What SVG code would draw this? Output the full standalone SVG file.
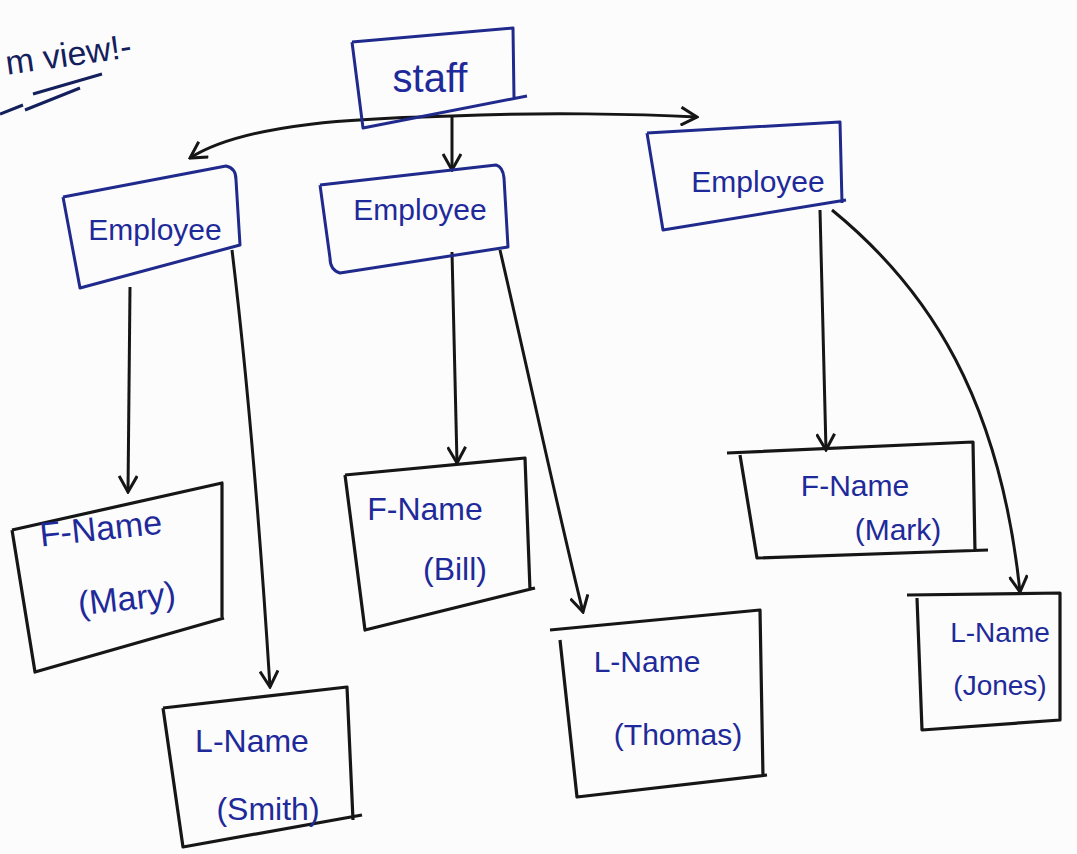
<svg xmlns="http://www.w3.org/2000/svg" width="1077" height="854" viewBox="0 0 1077 854">
<style>
.box{fill:none;stroke:#1f2a8c;stroke-width:3;stroke-linejoin:round}
.nbox{fill:none;stroke:#161616;stroke-width:3.2;stroke-linejoin:round}
.t{font-family:"Liberation Sans",Arial,sans-serif;fill:#1f2a9a;text-anchor:middle}
.c{fill:none;stroke:#161616;stroke-width:3}
</style>
<defs>
<marker id="ah" viewBox="0 0 20 20" refX="18" refY="10" markerWidth="20" markerHeight="20" markerUnits="userSpaceOnUse" orient="auto">
<path d="M2,1 L18,10 L2,19" fill="none" stroke="#161616" stroke-width="3"/>
</marker>
</defs>
<rect width="1077" height="854" fill="#fcfcfc"/>
<g id="title">
<text x="70" y="66" class="t" style="font-size:34px;fill:#14205c" transform="rotate(-8 70 66)">m view!-</text>
<path d="M33,94 L102,74 M25,110 L80,88 M0,114 L23,105" stroke="#14205c" stroke-width="3" fill="none"/>
</g>
<g id="connectors">
<path class="c" d="M452,116 L452,170" marker-end="url(#ah)"/>
<path class="c" d="M452,116 C380,118 250,120 190,158" marker-end="url(#ah)"/>
<path class="c" d="M452,116 C540,112 640,114 697,117" marker-end="url(#ah)"/>
<path class="c" d="M130,287 L128,492" marker-end="url(#ah)"/>
<path class="c" d="M232,250 C250,400 262,560 270,687" marker-end="url(#ah)"/>
<path class="c" d="M452,252 L457,463" marker-end="url(#ah)"/>
<path class="c" d="M500,250 C530,380 560,520 583,612" marker-end="url(#ah)"/>
<path class="c" d="M820,210 L826,450" marker-end="url(#ah)"/>
<path class="c" d="M832,210 C930,290 1000,400 1020,592" marker-end="url(#ah)"/>
</g>
<g id="staff">
<path class="box" d="M352,42 L513,28 L514,98 M527,96 L363,128 L352,42"/>
<text x="430" y="92" class="t" style="font-size:40px">staff</text>
</g>
<g id="employee1">
<path class="box" d="M63,197 L226,166 Q236,168 236,180 L240,245 L80,288 L63,197"/>
<text x="155" y="240" class="t" style="font-size:30px">Employee</text>
</g>
<g id="employee2">
<path class="box" d="M320,185 L496,165 Q503,167 504,178 L508,247 L340,273 Q330,270 330,258 L320,185"/>
<text x="420" y="220" class="t" style="font-size:30px">Employee</text>
</g>
<g id="employee3">
<path class="box" d="M647,133 L840,122 L842,203 M846,200 L663,230 L647,133"/>
<text x="758" y="192" class="t" style="font-size:30px">Employee</text>
</g>
<g id="fname-mary">
<path class="nbox" d="M12,530 L222,483 L222,617 M224,618 L35,672 L12,530"/>
<text x="102" y="540" class="t" style="font-size:34px" transform="rotate(-6 102 540)">F-Name</text>
<text x="128" y="610" class="t" style="font-size:34px" transform="rotate(-6 128 610)">(Mary)</text>
</g>
<g id="lname-smith">
<path class="nbox" d="M163,708 L347,687 L353,820 M362,815 L183,847 L163,708"/>
<text x="252" y="752" class="t" style="font-size:32px">L-Name</text>
<text x="268" y="820" class="t" style="font-size:32px">(Smith)</text>
</g>
<g id="fname-bill">
<path class="nbox" d="M345,475 L525,458 L530,590 M535,588 L365,630 L345,475"/>
<text x="425" y="520" class="t" style="font-size:32px">F-Name</text>
<text x="455" y="580" class="t" style="font-size:32px">(Bill)</text>
</g>
<g id="lname-thomas">
<path class="nbox" d="M550,630 L760,610 L763,777 M767,775 L577,797 L560,640"/>
<text x="647" y="672" class="t" style="font-size:30px">L-Name</text>
<text x="678" y="745" class="t" style="font-size:30px">(Thomas)</text>
</g>
<g id="fname-mark">
<path class="nbox" d="M727,453 L973,442 L975,552 M988,550 L757,558 L740,455"/>
<text x="855" y="496" class="t" style="font-size:30px">F-Name</text>
<text x="898" y="540" class="t" style="font-size:30px">(Mark)</text>
</g>
<g id="lname-jones">
<path class="nbox" d="M907,595 L1060,593 L1060,720 L922,730 L917,598"/>
<text x="1000" y="642" class="t" style="font-size:28px">L-Name</text>
<text x="1000" y="695" class="t" style="font-size:28px">(Jones)</text>
</g>
</svg>
